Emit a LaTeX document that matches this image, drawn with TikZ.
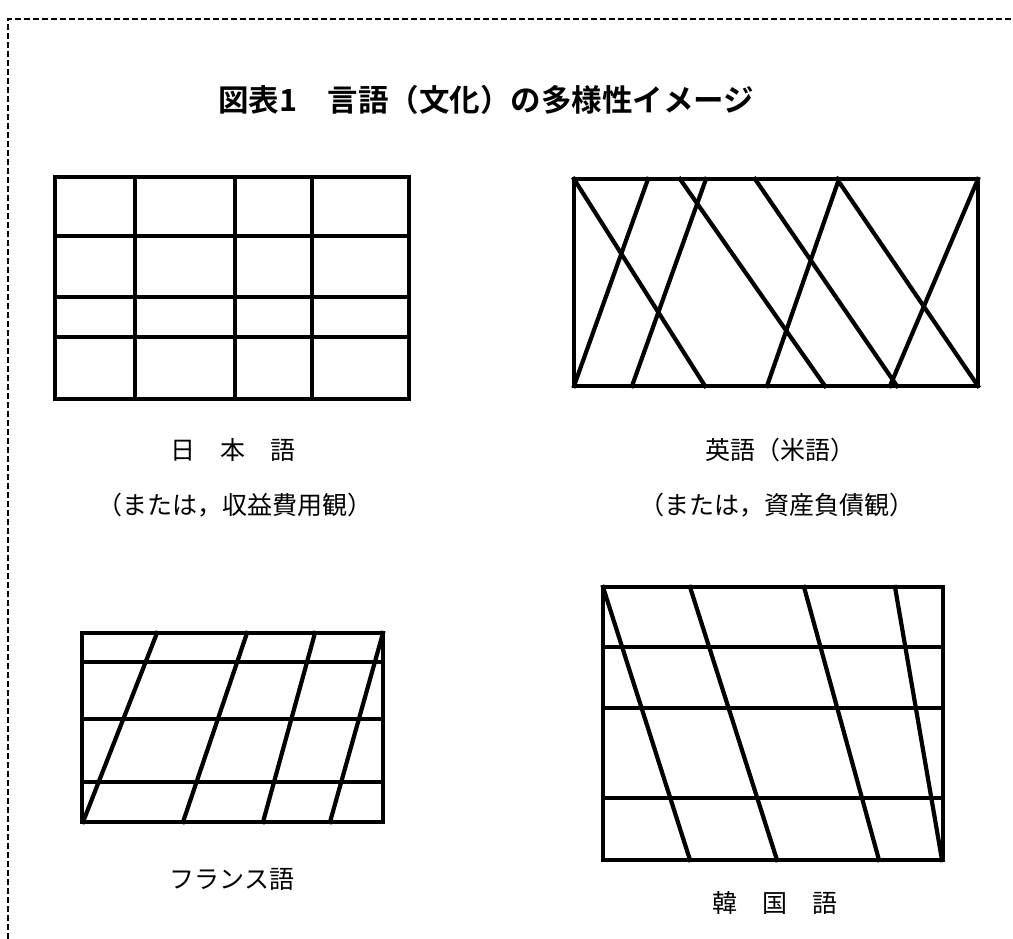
\documentclass[tikz,border=0pt]{standalone}
\usepackage{fontspec}
\newfontfamily\jp{Noto Sans CJK JP}
\newfontfamily\jpbold{Noto Sans CJK JP Bold}
\tikzset{
  gridline/.style={line width=4.2pt, line cap=rect, line join=miter},
  border/.style={line width=1.8pt, dash pattern=on 6pt off 3pt},
  label/.style={font=\jp\fontsize{25}{25}\selectfont, inner sep=0pt, anchor=center},
  titletext/.style={font=\jpbold\fontsize{30.5}{30.5}\selectfont, inner sep=0pt, anchor=center}
}
\begin{document}
\begin{tikzpicture}[x=1pt,y=-1pt]
\useasboundingbox (0,0) rectangle (1013,938);
% dashed frame
\draw[border] (1020,19) -- (8,19) -- (8,945);
% title
\node[titletext] (title) at (486,100) {図表1　言語（文化）の多様性イメージ};

% Japanese grid
\draw[gridline] (55,177) rectangle (409,399);
\foreach \x in {135,235,312} \draw[gridline] (\x,177) -- (\x,399);
\foreach \y in {236,297,337} \draw[gridline] (55,\y) -- (409,\y);
\node[label] (jp1) at (233,450) {日　本　語};
\node[label] (jp2) at (235,505) {（または，収益費用観）};

% English grid
\draw[gridline] (574,179) rectangle (978,386);
\draw[gridline] (574,179) -- (705,386);
\draw[gridline] (574,386) -- (648,179);
\draw[gridline] (632,386) -- (706,179);
\draw[gridline] (680,179) -- (825,386);
\draw[gridline] (755,179) -- (897,386);
\draw[gridline] (767,386) -- (839,179);
\draw[gridline] (837,179) -- (978,386);
\draw[gridline] (890,386) -- (978,179);
\node[label] (en1) at (780,450) {英語（米語）};
\node[label] (en2) at (777,505) {（または，資産負債観）};

% French grid
\draw[gridline] (82,633) rectangle (383,822);
\foreach \y in {662,719,782} \draw[gridline] (82,\y) -- (383,\y);
\draw[gridline] (83,822) -- (157,633);
\draw[gridline] (183,822) -- (247,633);
\draw[gridline] (263,822) -- (315,633);
\draw[gridline] (330,822) -- (383,633);
\node[label] (fr) at (232,879) {フランス語};

% Korean grid
\draw[gridline] (603,587) rectangle (943,860);
\foreach \y in {647,708,798} \draw[gridline] (603,\y) -- (943,\y);
\draw[gridline] (603,587) -- (690,860);
\draw[gridline] (690,587) -- (777,860);
\draw[gridline] (804,587) -- (879,860);
\draw[gridline] (895,587) -- (942,860);
\node[label] (ko) at (775,903) {韓　国　語};
\end{tikzpicture}
\end{document}
